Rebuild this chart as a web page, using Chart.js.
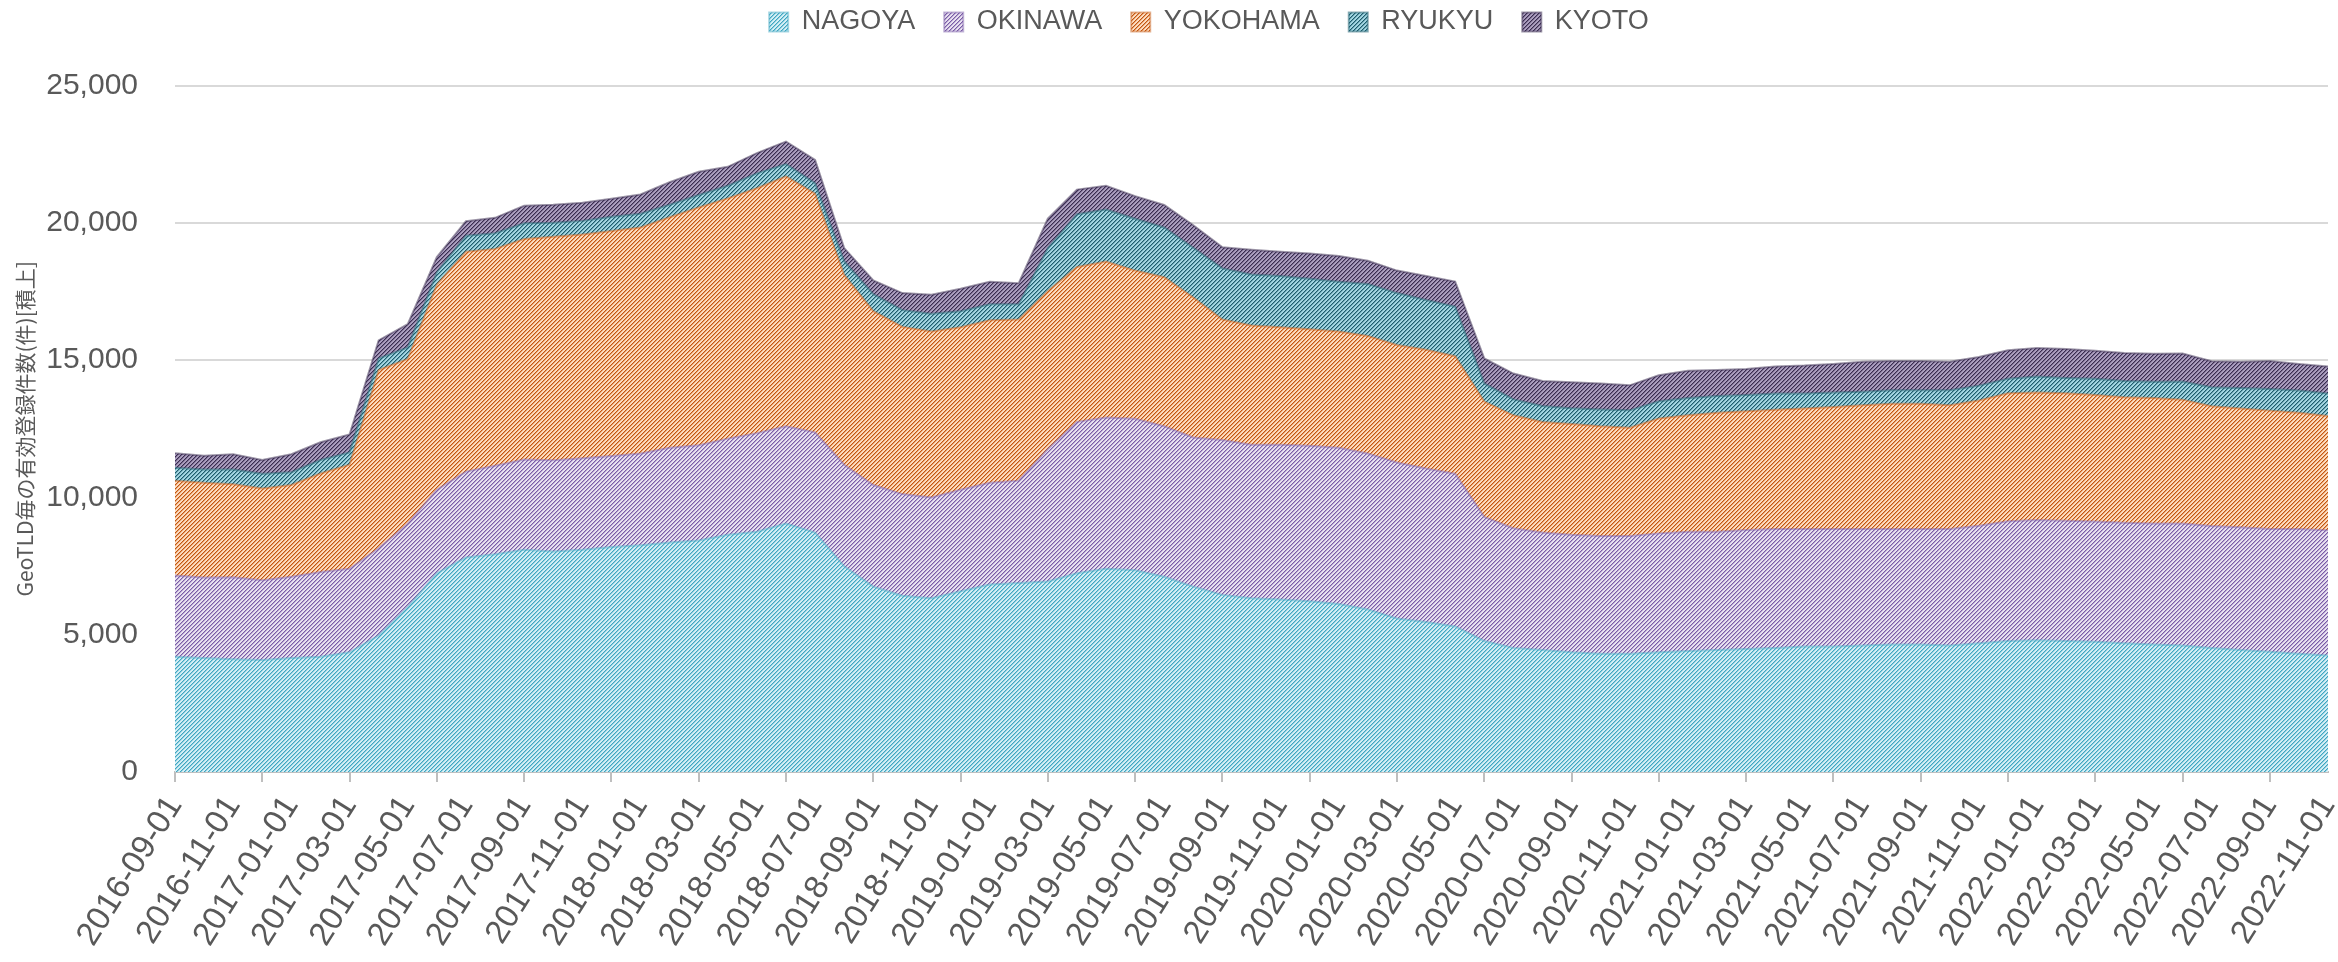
<!DOCTYPE html>
<html>
<head>
<meta charset="utf-8">
<script src="https://cdn.jsdelivr.net/npm/chart.js@4.4.1/dist/chart.umd.min.js"></script>
<style>
html,body{margin:0;padding:0;background:#fff;}
#wrap{width:2338px;height:962px;position:relative;}
</style>
</head>
<body>
<div id="wrap"><canvas id="c" width="2338" height="962"></canvas></div>
<script>
const categories = [
'2016-09-01','2016-10-01','2016-11-01','2016-12-01',
'2017-01-01','2017-02-01','2017-03-01','2017-04-01','2017-05-01','2017-06-01','2017-07-01','2017-08-01','2017-09-01','2017-10-01','2017-11-01','2017-12-01',
'2018-01-01','2018-02-01','2018-03-01','2018-04-01','2018-05-01','2018-06-01','2018-07-01','2018-08-01','2018-09-01','2018-10-01','2018-11-01','2018-12-01',
'2019-01-01','2019-02-01','2019-03-01','2019-04-01','2019-05-01','2019-06-01','2019-07-01','2019-08-01','2019-09-01','2019-10-01','2019-11-01','2019-12-01',
'2020-01-01','2020-02-01','2020-03-01','2020-04-01','2020-05-01','2020-06-01','2020-07-01','2020-08-01','2020-09-01','2020-10-01','2020-11-01','2020-12-01',
'2021-01-01','2021-02-01','2021-03-01','2021-04-01','2021-05-01','2021-06-01','2021-07-01','2021-08-01','2021-09-01','2021-10-01','2021-11-01','2021-12-01',
'2022-01-01','2022-02-01','2022-03-01','2022-04-01','2022-05-01','2022-06-01','2022-07-01','2022-08-01','2022-09-01','2022-10-01','2022-11-01'
];

const seriesNames = ['NAGOYA','OKINAWA','YOKOHAMA','RYUKYU','KYOTO'];

const nagoya = [
4200,4150,4110,4080,4150,4200,4360,4970,6000,7240,7810,7930,8090,8030,8090,8190,
8260,8360,8430,8640,8750,9050,8720,7490,6750,6420,6330,6580,6830,6880,6940,7240,
7400,7350,7110,6750,6450,6330,6280,6220,6120,5920,5590,5460,5300,4770,4520,4440,
4360,4310,4310,4360,4410,4440,4480,4520,4570,4570,4610,4640,4640,4610,4690,4770,
4800,4770,4740,4690,4640,4610,4520,4440,4380,4310,4240
];
const okinawa = [
2960,2930,2980,2900,2960,3080,3040,3180,3040,3040,3130,3220,3290,3320,3340,3320,
3340,3450,3470,3500,3590,3540,3650,3700,3700,3700,3670,3700,3700,3730,4820,5510,
5510,5510,5480,5430,5640,5590,5640,5660,5690,5680,5680,5590,5560,4520,4360,4280,
4280,4280,4280,4330,4340,4310,4330,4330,4280,4280,4240,4210,4210,4240,4280,4360,
4380,4380,4380,4390,4410,4440,4440,4470,4470,4540,4560
];
const yokohama = [
3450,3450,3390,3340,3340,3590,3790,6490,6000,7470,8010,7900,8030,8140,8140,8190,
8230,8390,8660,8750,8920,9100,8690,6910,6330,6090,6040,5920,5920,5870,5760,5640,
5680,5400,5430,5100,4390,4340,4280,4240,4230,4280,4280,4330,4280,4200,4110,4030,
4030,4000,3950,4180,4240,4330,4330,4340,4390,4440,4510,4560,4560,4510,4560,4660,
4640,4640,4610,4570,4570,4510,4360,4330,4310,4230,4160
];
const ryukyu = [
470,490,540,540,470,490,450,420,420,450,580,570,570,510,500,520,
500,460,450,460,540,450,380,500,620,610,650,580,580,550,1560,1920,
1890,1890,1810,1810,1860,1860,1860,1840,1810,1890,1890,1810,1810,660,580,580,
580,610,630,630,630,610,590,590,540,530,490,490,490,540,540,530,
580,560,590,590,590,660,690,740,790,810,820
];
const kyoto = [
530,500,550,500,650,650,650,660,850,550,530,560,640,660,660,660,
700,820,850,690,740,820,850,480,500,620,690,820,820,770,1070,900,
870,820,820,820,770,900,890,920,940,850,820,870,910,910,940,910,
940,950,910,950,990,950,950,990,1020,1040,1090,1070,1070,1040,1040,1040,
1040,1050,1020,1020,1020,1020,950,960,1020,970,990
];
const seriesValues = [nagoya, okinawa, yokohama, ryukyu, kyoto];

const yTickValues = [0,5000,10000,15000,20000,25000];
const yAxisTitle = 'GeoTLD毎の有効登録件数(件)[積上]';

const palette = [
  {fg:'#3ea6c2', bg:'#d4eef5', edge:'rgba(62,166,194,0.45)'},
  {fg:'#7a5ca6', bg:'#e8e1f0', edge:'rgba(122,92,166,0.45)'},
  {fg:'#c4560f', bg:'#fddcc0', edge:'rgba(196,86,15,0.45)'},
  {fg:'#1e5d6d', bg:'#a3d6e2', edge:'rgba(30,93,109,0.5)'},
  {fg:'#3a2c50', bg:'#ab9ebf', edge:'rgba(58,44,80,0.5)'}
];

function hatch(fg, bg) {
  const c = document.createElement('canvas');
  c.width = 4; c.height = 4;
  const g = c.getContext('2d');
  g.fillStyle = bg; g.fillRect(0,0,4,4);
  g.fillStyle = fg;
  for (let y = 0; y < 4; y++) { g.fillRect((7 - y) % 4, y, 1, 1); }
  g.globalAlpha = 0.45;
  for (let y = 0; y < 4; y++) { g.fillRect((8 - y) % 4, y, 1, 1); }
  return g.createPattern(c, 'repeat');
}

const FONT = "'Liberation Sans', 'Open Sans', Arial, sans-serif";
const TEXT = '#595959';

const legendShift = {
  id: 'legendShift',
  afterLayout(chart) {
    const lg = chart.legend;
    if (!lg) return;
    const dx = 45;
    const lo = lg.options.labels;
    const itemH = Math.max(lo.boxHeight, lo.font.size);
    const dy = 22 - (lg.top + lo.padding + itemH / 2);
    lg.left += dx; lg.right += dx;
    lg.top += dy; lg.bottom += dy;
  }
};

const datasets = seriesNames.map((name, i) => ({
  label: name,
  data: seriesValues[i],
  fill: i === 0 ? 'origin' : '-1',
  backgroundColor: hatch(palette[i].fg, palette[i].bg),
  borderColor: palette[i].edge,
  borderWidth: 2,
  pointRadius: 0,
  pointHoverRadius: 0,
  tension: 0
}));

new Chart(document.getElementById('c'), {
  type: 'line',
  data: { labels: categories, datasets },
  plugins: [legendShift],
  options: {
    responsive: false,
    animation: false,
    maintainAspectRatio: false,
    layout: { padding: { left: 0, right: 10, top: 19.5, bottom: 0 } },
    plugins: {
      tooltip: { enabled: false },
      legend: {
        display: true,
        position: 'top',
        labels: {
          color: TEXT,
          font: { family: FONT, size: 27 },
          boxWidth: 19,
          boxHeight: 19,
          padding: 29
        }
      }
    },
    scales: {
      x: {
        type: 'category',
        offset: false,
        grid: {
          drawOnChartArea: false,
          drawTicks: true,
          tickLength: 10,
          lineWidth: 2,
          tickColor: (ctx) => (ctx.index % 3 === 0 ? '#bfbfbf' : 'rgba(0,0,0,0)')
        },
        border: { display: true, color: '#bfbfbf', width: 2 },
        ticks: {
          autoSkip: false,
          maxRotation: 58,
          minRotation: 58,
          padding: 7,
          color: TEXT,
          font: { family: FONT, size: 33 },
          callback: function (v, i) { return i % 2 === 0 ? this.getLabelForValue(v) : ''; }
        },
        afterFit: (s) => { s.height = 190; s.paddingLeft = 0; s.paddingRight = 0; }
      },
      y: {
        stacked: true,
        min: 0,
        max: 25000,
        afterBuildTicks: (s) => { s.ticks = yTickValues.map(v => ({ value: v })); },
        grid: { color: '#d9d9d9', lineWidth: 2, drawTicks: false },
        border: { display: false },
        ticks: {
          padding: 37,
          color: TEXT,
          font: { family: FONT, size: 30 },
          callback: (v) => Number(v).toLocaleString('en-US')
        },
        title: {
          display: true,
          text: yAxisTitle,
          color: TEXT,
          font: { family: "'Noto Sans CJK JP', 'Noto Sans', sans-serif", size: 21 },
          padding: { top: 12, bottom: 0 }
        },
        afterFit: (s) => { s.width = 175; }
      }
    }
  }
});
</script>
</body>
</html>
